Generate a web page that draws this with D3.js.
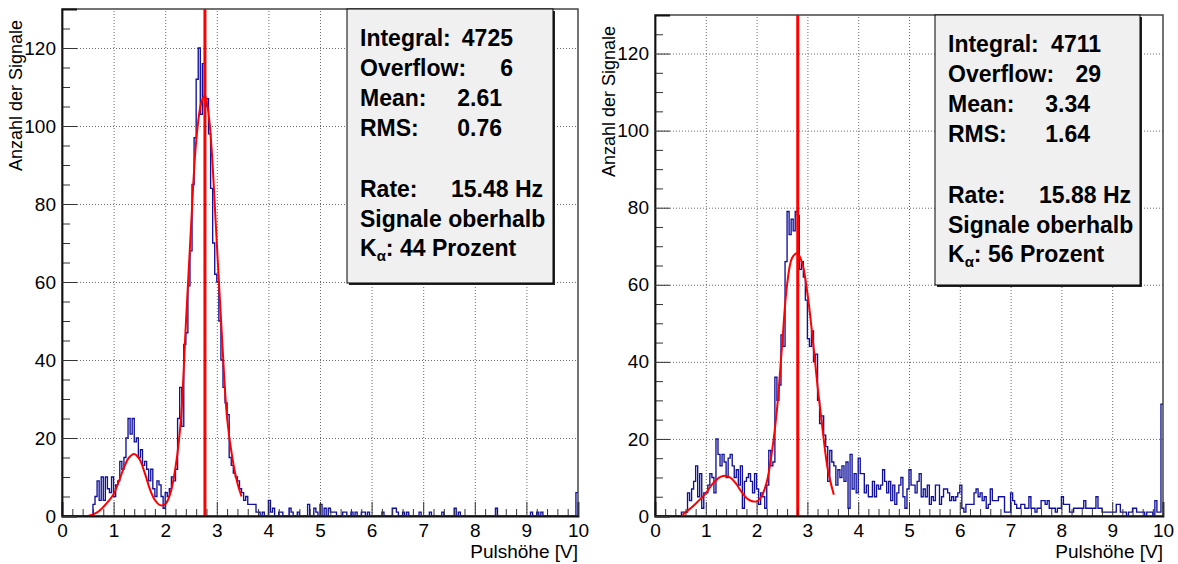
<!DOCTYPE html>
<html><head><meta charset="utf-8">
<script src="https://cdn.jsdelivr.net/npm/d3@7"></script>
<style>
body{margin:0;background:#fff}
svg{display:block}
text{font-family:"Liberation Sans",Arial,Helvetica,sans-serif}
</style>
</head><body>
<svg id="c" width="1178" height="564"></svg>
<script>
// ---------------- data ----------------
const binWidth = 0.04;            // V per bin, 0..10 V
const xTickValues = [0,1,2,3,4,5,6,7,8,9,10];
const xTickLabels = ["0","1","2","3","4","5","6","7","8","9","10"];
const yTickValues = [0,20,40,60,80,100,120];
const yTickLabels = ["0","20","40","60","80","100","120"];
const xTitle = "Pulshöhe [V]";
const yTitle = "Anzahl der Signale";

const leftCounts = [
 0,0,0,0,0,0,0,0,0,0,
 0,0,0,0,0,3,5,9,4,10,
 4,10,7,6,10,5,8,9,14,12,
 15,20,25,21,25,19,20,15,17,13,
 14,12,9,12,7,5,9,8,5,2,
 6,5,7,10,9,12,25,33,23,44,
 47,59,68,85,97,112,120,103,116,105,
 107,98,84,70,62,60,50,40,33,29,
 26,15,13,11,10,9,7,6,4,5,
 3,3,3,3,1,1,0,1,0,0,
 4,1,2,0,0,1,1,0,0,0,
 2,1,0,0,1,0,0,0,0,3,
 0,0,2,1,0,3,0,2,0,2,
 1,1,1,0,0,0,1,1,0,0,
 1,0,1,0,0,1,1,0,1,0,
 0,0,0,0,0,1,0,0,0,0,
 2,2,1,0,0,1,0,1,0,0,
 0,0,0,1,0,0,0,0,1,0,
 0,0,0,0,1,0,0,0,0,0,
 2,0,1,0,0,0,0,0,0,0,
 0,0,0,0,0,0,0,0,0,0,
 2,0,0,0,0,0,0,0,0,0,
 0,0,0,0,0,0,0,1,0,0,
 1,0,1,0,0,0,0,0,0,0,
 0,0,0,0,0,0,0,0,0,6
];
const rightCounts = [
 0,0,0,0,0,0,0,0,0,0,
 0,0,0,1,1,1,6,4,7,9,
 13,5,11,2,6,6,8,11,10,6,
 20,16,13,16,14,10,15,16,13,10,
 12,8,13,2,9,10,11,9,6,11,
 7,3,6,5,2,8,17,13,14,36,
 30,34,47,44,66,79,73,77,74,79,
 78,64,66,62,56,46,44,48,40,42,
 30,24,26,21,18,9,17,14,13,8,
 12,10,13,9,14,2,16,7,11,6,
 15,11,11,6,8,5,5,9,5,8,
 7,8,12,9,6,9,4,8,3,6,
 8,10,5,2,7,12,8,8,6,9,
 11,5,7,5,8,3,5,4,8,8,
 3,5,7,7,6,4,5,4,5,6,
 8,2,1,3,3,3,3,6,7,5,
 6,4,5,2,3,7,4,4,4,5,
 5,5,1,1,1,6,4,3,2,2,
 3,3,2,2,5,2,2,1,2,2,
 4,4,3,4,2,2,2,1,2,2,
 5,3,3,3,1,1,2,2,2,2,
 2,4,2,2,2,2,2,5,2,2,
 1,1,1,1,1,1,1,3,3,1,
 1,1,0,1,1,2,2,1,1,1,
 1,0,1,1,1,0,4,1,1,29
];

// fit curves
const leftFitX = [0.5,0.6,0.7,0.8,0.9,1.0,1.1,1.2,1.3,1.4,1.5,1.6,1.7,1.8,1.9,2.0,2.1,2.2,2.3,2.4,2.5,2.6,2.7,2.77,2.85,2.9,3.0,3.1,3.2,3.3,3.4,3.48];
const leftFitY = [0,0.4,1.1,2.3,3.8,5.6,8.8,12.4,15.0,15.9,14.6,11.2,7.0,4.1,2.8,3.0,5.8,12.5,24,49,74,96,106,107.8,102,94,70,46,25,15,8.4,5];
const rightFitX = [0.54,0.7,0.8,0.9,1.0,1.1,1.2,1.3,1.4,1.5,1.6,1.7,1.8,1.9,2.0,2.1,2.2,2.3,2.4,2.5,2.6,2.7,2.8,2.9,3.0,3.1,3.2,3.3,3.4,3.52];
const rightFitY = [0.3,2.0,3.2,4.5,5.9,7.8,9.3,10.2,10.4,9.8,8.3,6.3,4.7,3.9,3.8,5.2,8.8,16.5,27.5,44,60,67,68.2,65.6,57.8,46.6,33.6,22.3,12.2,5.5];

const leftMarker = 2.77;
const rightMarker = 2.81;

const statLabels = ["Integral:","Overflow:","Mean:","RMS:","Rate:","Signale oberhalb"];
const leftStatValues = ["4725","6","2.61","0.76","15.48 Hz",""];
const rightStatValues = ["4711","29","3.34","1.64","15.88 Hz",""];
const leftKalpha = "44 Prozent";
const rightKalpha = "56 Prozent";

// ---------------- drawing ----------------
const svg = d3.select("#c");
svg.append("rect").attr("width",1178).attr("height",564).attr("fill","#fff");

function panel(g, L, counts, fitX, fitY, marker, values, kalpha) {
  const x = d3.scaleLinear().domain([0,10]).range([L.x0, L.x1]);
  const y = d3.scaleLinear().domain([0,130]).range([L.y1, L.y0]);
  const W = L.x1 - L.x0, H = L.y1 - L.y0;

  // grid
  const gx = g.append("g").attr("transform",`translate(0,${L.y1})`)
    .call(d3.axisBottom(x).tickValues(xTickValues.slice(1,-1)).tickSize(-H).tickFormat(""));
  const gy = g.append("g").attr("transform",`translate(${L.x0},0)`)
    .call(d3.axisLeft(y).tickValues(yTickValues.slice(1)).tickSize(-W).tickFormat(""));
  [gx,gy].forEach(a=>{
    a.select(".domain").remove();
    a.selectAll("line").attr("stroke","#6a6a6a").attr("stroke-width",1).attr("stroke-dasharray","1,2");
  });

  // histogram outline (steps)
  const pts = [];
  counts.forEach((c,i)=>{ pts.push([i*binWidth, c]); pts.push([(i+1)*binWidth, c]); });
  g.append("path")
    .attr("d", d3.line().x(d=>x(d[0])).y(d=>y(d[1]))(pts))
    .attr("fill","none").attr("stroke","#10109c").attr("stroke-width",1.35);

  // fit curve
  g.append("path")
    .attr("d", d3.line().x(d=>x(d[0])).y(d=>y(d[1])).curve(d3.curveCatmullRom)(fitX.map((v,i)=>[v,fitY[i]])))
    .attr("fill","none").attr("stroke","#ff0000").attr("stroke-width",2);

  // marker line
  g.append("line").attr("x1",x(marker)).attr("x2",x(marker))
    .attr("y1",L.y0).attr("y2",L.y1).attr("stroke","#ff0000").attr("stroke-width",3);

  // frame
  g.append("rect").attr("x",L.x0).attr("y",L.y0).attr("width",W).attr("height",H)
    .attr("fill","none").attr("stroke","#444").attr("stroke-width",1.5);

  // minor ticks
  const minorX = d3.range(0,50).map(i=>i*0.2).filter(v=>Math.abs(v-Math.round(v))>1e-6);
  const minorY = d3.range(0,27).map(i=>i*5).filter(v=>v%20!==0);
  const mx = g.append("g").attr("transform",`translate(0,${L.y1})`)
    .call(d3.axisBottom(x).tickValues(minorX).tickSize(-7).tickFormat(""));
  const my = g.append("g").attr("transform",`translate(${L.x0},0)`)
    .call(d3.axisLeft(y).tickValues(minorY).tickSize(-8).tickFormat(""));
  [mx,my].forEach(a=>{ a.select(".domain").remove(); a.selectAll("line").attr("stroke","#333").attr("stroke-width",1); });

  // major axes
  const ax = g.append("g").attr("transform",`translate(0,${L.y1})`)
    .call(d3.axisBottom(x).tickValues(xTickValues).tickSize(-14).tickPadding(8)
      .tickFormat((d,i)=>xTickLabels[i]));
  const ay = g.append("g").attr("transform",`translate(${L.x0},0)`)
    .call(d3.axisLeft(y).tickValues(yTickValues).tickSize(-15).tickPadding(6)
      .tickFormat((d,i)=>yTickLabels[i]));
  [ax,ay].forEach(a=>{
    a.select(".domain").attr("stroke","#111").attr("stroke-width",1.8);
    a.selectAll("line").attr("stroke","#333").attr("stroke-width",1);
    a.selectAll("text").attr("font-size",19).attr("fill","#000")
      .attr("font-family",'"Liberation Sans",Arial,sans-serif');
  });

  // axis titles
  g.append("text").attr("x",L.x1).attr("y",L.y1+42).attr("text-anchor","end")
    .attr("font-size",19).text(xTitle);
  g.append("text").attr("transform",`translate(${L.x0-40},${L.y0+11}) rotate(-90)`)
    .attr("text-anchor","end").attr("font-size",18).text(yTitle);

  // stats box
  const B = L.box;
  g.append("rect").attr("x",B.x+2).attr("y",B.y+2).attr("width",B.w).attr("height",B.h).attr("fill","#222");
  g.append("rect").attr("x",B.x).attr("y",B.y).attr("width",B.w).attr("height",B.h)
    .attr("fill","#f0f0f0").attr("stroke","#000").attr("stroke-width",1);
  const tx = B.x + 13;
  const offs = [37,67,97,127,188,218,247];
  statLabels.forEach((lab,i)=>{
    g.append("text").attr("x",tx).attr("y",B.y+offs[i]).attr("font-size",23).attr("font-weight","bold").text(lab);
    if (values[i]) {
      const endX = i<2 ? tx+153 : (i<4 ? tx+142 : tx+183);
      g.append("text").attr("x",endX).attr("y",B.y+offs[i]).attr("text-anchor","end")
        .attr("font-size",23).attr("font-weight","bold").text(values[i]);
    }
  });
  const k = g.append("text").attr("x",tx).attr("y",B.y+offs[6]).attr("font-size",23).attr("font-weight","bold");
  k.append("tspan").text("K");
  k.append("tspan").attr("font-size",15).attr("dy",5).text("α");
  k.append("tspan").attr("dy",-5).text(": " + kalpha);
}

panel(svg.append("g"), {x0:62,x1:578,y0:9,y1:516, box:{x:347,y:9,w:206,h:274}},
  leftCounts, leftFitX, leftFitY, leftMarker, leftStatValues, leftKalpha);
panel(svg.append("g"), {x0:655,x1:1163,y0:15,y1:516, box:{x:935,y:15,w:205,h:270}},
  rightCounts, rightFitX, rightFitY, rightMarker, rightStatValues, rightKalpha);
</script>
</body></html>
